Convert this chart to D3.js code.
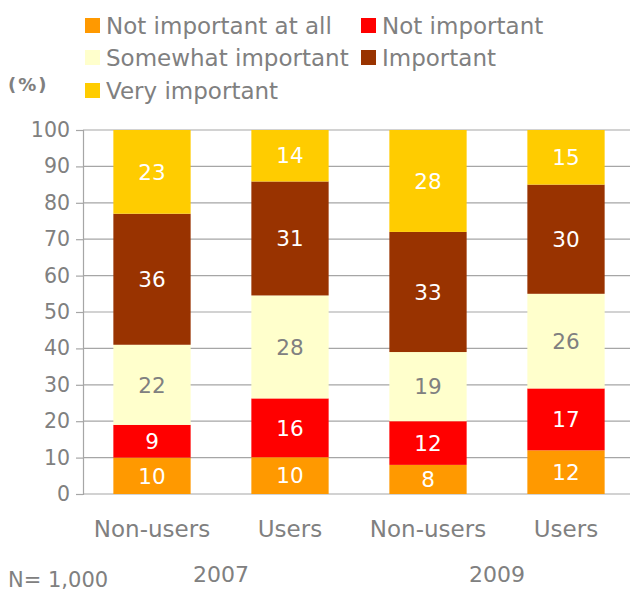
<!DOCTYPE html>
<html><head><meta charset="utf-8">
<script src="https://cdn.jsdelivr.net/npm/d3@7"></script>
<style>body{margin:0;background:#fff}svg{display:block}</style>
</head><body>
<svg id="c" width="632" height="591"></svg>
<script>
const categories = ["Non-users","Users","Non-users","Users"];
const years = ["2007","2009"];
const seriesNames = ["Not important at all","Not important","Somewhat important","Important","Very important"];
const notAtAll = [10,10,8,12];
const notImportant = [9,16,12,17];
const somewhat = [22,28,19,26];
const important = [36,31,33,30];
const veryImportant = [23,14,28,15];
const yTicks = [0,10,20,30,40,50,60,70,80,90,100];
const colors = ["#FF9900","#FF0000","#FFFFCC","#993300","#FFCC00"];
const labelColors = ["#fff","#fff","#808080","#fff","#fff"];

const seriesVals = [notAtAll,notImportant,somewhat,important,veryImportant];
const font = "'DejaVu Sans', Verdana, sans-serif";
const grey = "#808080";
const svg = d3.select("#c");

const x = d3.scaleBand().domain(d3.range(categories.length)).range([83,635]).paddingInner(0.44).paddingOuter(0.22);
const y = d3.scaleLinear().domain([0,100]).range([494,130]);

// grid
svg.append("g").selectAll("line").data(yTicks).join("line")
  .attr("x1",83).attr("x2",630).attr("y1",d=>y(d)).attr("y2",d=>y(d))
  .attr("stroke","#a6a6a6").attr("stroke-width",1.2);

// y axis
const yAxis = svg.append("g").attr("transform","translate(83,0)")
  .call(d3.axisLeft(y).tickValues(yTicks).tickSize(7).tickPadding(6));
yAxis.select(".domain").attr("stroke","#a6a6a6").attr("stroke-width",1.2);
yAxis.selectAll(".tick line").attr("stroke","#a6a6a6").attr("stroke-width",1.2);
yAxis.selectAll("text").attr("fill",grey).style("font-family",font).style("font-size","20.5px");

// stacks (percent-normalized)
categories.forEach((c,i)=>{
  const vals = seriesVals.map(s=>s[i]);
  const total = d3.sum(vals);
  let cum = 0;
  vals.forEach((v,j)=>{
    const y0 = cum/total*100, y1 = (cum+v)/total*100;
    cum += v;
    svg.append("rect").attr("x",x(i)).attr("width",x.bandwidth())
      .attr("y",y(y1)).attr("height",y(y0)-y(y1)).attr("fill",colors[j]);
    svg.append("text").attr("x",x(i)+x.bandwidth()/2).attr("y",(y(y0)+y(y1))/2)
      .attr("dy","0.36em").attr("text-anchor","middle").attr("fill",labelColors[j])
      .style("font-family",font).style("font-size","21.5px").text(v);
  });
});

// category labels
svg.append("g").selectAll("text").data(categories).join("text")
  .attr("x",(d,i)=>x(i)+x.bandwidth()/2).attr("y",537)
  .attr("text-anchor","middle").attr("fill",grey).style("font-family",font).style("font-size","23px").text(d=>d);
// years
years.forEach((yr,k)=>{
  const cx = (x(2*k)+x(2*k+1)+x.bandwidth())/2;
  svg.append("text").attr("x",cx).attr("y",582)
    .attr("text-anchor","middle").attr("fill",grey).style("font-family",font).style("font-size","22px").text(yr);
});
svg.append("text").attr("x",8).attr("y",587).attr("fill",grey)
  .style("font-family",font).style("font-size","21px").text("N= 1,000");
svg.append("text").attr("x",8).attr("y",91).attr("fill",grey)
  .style("font-family",font).style("font-size","18px").style("font-weight","bold").style("letter-spacing","2px").text("(%)");

// legend
const legPos = [[85,26],[361,26],[85,58],[361,58],[85,91]];
seriesNames.forEach((n,j)=>{
  const [lx,ly] = legPos[j];
  svg.append("rect").attr("x",lx).attr("y",ly-8).attr("width",15).attr("height",15).attr("fill",colors[j]);
  svg.append("text").attr("x",lx+21).attr("y",ly).attr("dy","0.36em").attr("fill",grey)
    .style("font-family",font).style("font-size","23px").text(n);
});
</script>
</body></html>
